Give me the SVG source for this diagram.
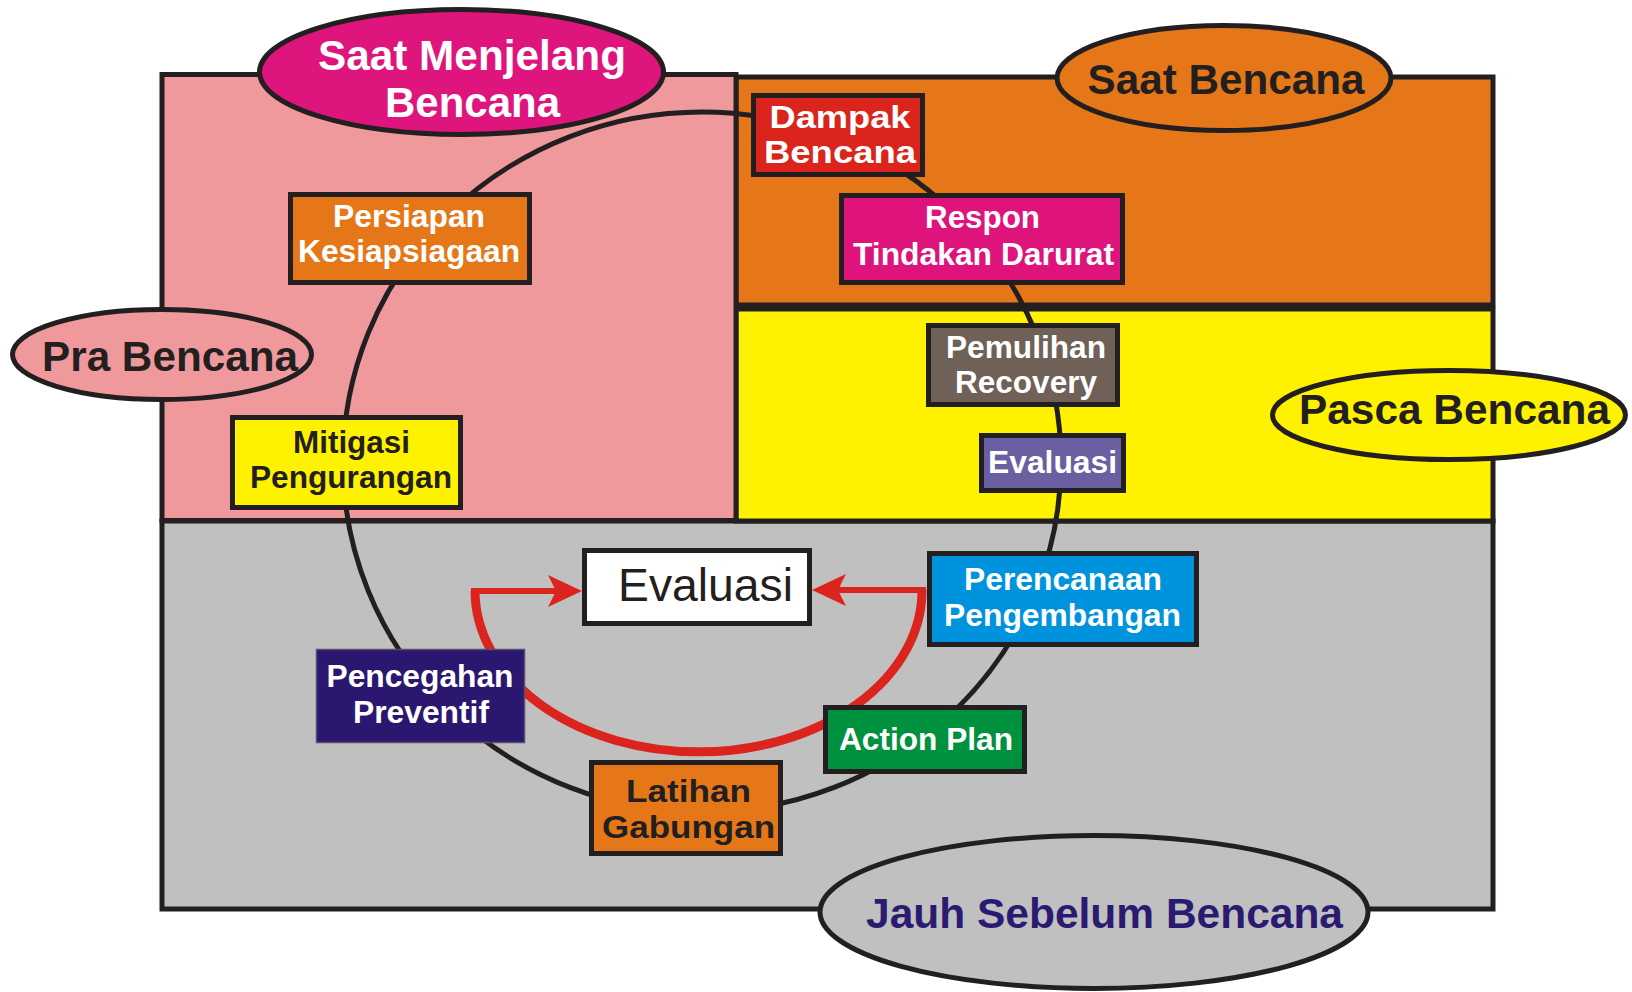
<svg xmlns="http://www.w3.org/2000/svg" width="1632" height="992" viewBox="0 0 1632 992">
<defs>
<style>
.reg{stroke:#231F20;stroke-width:5}
.box{stroke:#231F20;stroke-width:5}
.lab{stroke:#231F20;stroke-width:5}
.t32{font-family:"Liberation Sans",Arial,sans-serif;font-weight:bold;font-size:32px;text-anchor:middle}
.t42{font-family:"Liberation Sans",Arial,sans-serif;font-weight:bold;font-size:42px;text-anchor:middle}
.w{fill:#FFFFFF}
.d{fill:#231F20}
.cyc{fill:none;stroke:#231F20;stroke-width:5}
.red{fill:none;stroke:#DC241F}
</style>
<marker id="ah" markerUnits="userSpaceOnUse" viewBox="0 0 34 32" markerWidth="34" markerHeight="32" refX="8" refY="16" orient="auto">
<path d="M0,0 L34,16 L0,32 L8,16 Z" fill="#DC241F"/>
</marker>
</defs>
<rect width="1632" height="992" fill="#FFFFFF"/>
<g id="regions">
<rect id="region-jauh" class="reg" x="162" y="521" width="1331" height="388" fill="#C0C0C0"/>
<rect id="region-pasca" class="reg" x="736" y="309" width="757" height="212" fill="#FFF200"/>
<rect id="region-saat" class="reg" x="736" y="77" width="757" height="228" fill="#E57718"/>
<rect id="region-pra" class="reg" x="162" y="74.5" width="574" height="446" fill="#EF999D"/>
</g>
<g id="connectors">
<ellipse class="cyc" cx="702" cy="462" rx="359" ry="350"/>
<path class="red" stroke-width="9" d="M475 591 A223 161 0 0 0 922 590"/>
<line class="red" stroke-width="6" x1="471" y1="591" x2="556" y2="591" marker-end="url(#ah)"/>
<line class="red" stroke-width="6" x1="926" y1="590" x2="838" y2="590" marker-end="url(#ah)"/>
</g>
<g id="node-persiapan">
<rect class="box" x="290.5" y="194.5" width="239" height="88" fill="#E57718"/>
<text class="t32 w" x="409" y="227" textLength="152" lengthAdjust="spacingAndGlyphs">Persiapan</text>
<text class="t32 w" x="409" y="262" textLength="222" lengthAdjust="spacingAndGlyphs">Kesiapsiagaan</text>
</g>
<g id="node-mitigasi">
<rect class="box" x="232.5" y="417.5" width="228" height="90" fill="#FFF200"/>
<text class="t32 d" x="351.5" y="453" textLength="117" lengthAdjust="spacingAndGlyphs">Mitigasi</text>
<text class="t32 d" x="351" y="488" textLength="202" lengthAdjust="spacingAndGlyphs">Pengurangan</text>
</g>
<g id="node-dampak">
<rect class="box" x="753.5" y="95.5" width="169" height="79" fill="#DA241C"/>
<text class="t32 w" x="840" y="127.5" textLength="141" lengthAdjust="spacingAndGlyphs">Dampak</text>
<text class="t32 w" x="840" y="162.5" textLength="152" lengthAdjust="spacingAndGlyphs">Bencana</text>
</g>
<g id="node-respon">
<rect class="box" x="841.5" y="195.5" width="281" height="87" fill="#DE137C"/>
<text class="t32 w" x="982.5" y="228" textLength="115" lengthAdjust="spacingAndGlyphs">Respon</text>
<text class="t32 w" x="983.5" y="265" textLength="261" lengthAdjust="spacingAndGlyphs">Tindakan Darurat</text>
</g>
<g id="node-pemulihan">
<rect class="box" x="928.5" y="325.5" width="189" height="79" fill="#6F6058"/>
<text class="t32 w" x="1026" y="357.5" textLength="160" lengthAdjust="spacingAndGlyphs">Pemulihan</text>
<text class="t32 w" x="1026" y="393" textLength="142" lengthAdjust="spacingAndGlyphs">Recovery</text>
</g>
<g id="node-evaluasi-pasca">
<rect class="box" x="981.5" y="435.5" width="142" height="55" fill="#6A5FA0"/>
<text class="t32 w" x="1052.5" y="473" textLength="129" lengthAdjust="spacingAndGlyphs">Evaluasi</text>
</g>
<g id="node-perencanaan">
<rect class="box" x="929.5" y="553.5" width="267" height="91" fill="#0093DD"/>
<text class="t32 w" x="1063" y="590" textLength="198" lengthAdjust="spacingAndGlyphs">Perencanaan</text>
<text class="t32 w" x="1062.5" y="626" textLength="237" lengthAdjust="spacingAndGlyphs">Pengembangan</text>
</g>
<g id="node-action-plan">
<rect class="box" x="825.5" y="707.5" width="199" height="64" fill="#00913F"/>
<text class="t32 w" x="926" y="750" textLength="174" lengthAdjust="spacingAndGlyphs">Action Plan</text>
</g>
<g id="node-latihan">
<rect class="box" x="591.5" y="762.5" width="189" height="91" fill="#E57718"/>
<text class="t32 d" x="688.5" y="802" textLength="125" lengthAdjust="spacingAndGlyphs">Latihan</text>
<text class="t32 d" x="688.5" y="838" textLength="173" lengthAdjust="spacingAndGlyphs">Gabungan</text>
</g>
<g id="node-pencegahan">
<rect x="316.5" y="649.5" width="208" height="93" fill="#2B1770" stroke="#55506A" stroke-width="1.5"/>
<text class="t32 w" x="420" y="687" textLength="187" lengthAdjust="spacingAndGlyphs">Pencegahan</text>
<text class="t32 w" x="421" y="723" textLength="136" lengthAdjust="spacingAndGlyphs">Preventif</text>
</g>
<g id="node-evaluasi">
<rect class="box" x="584.5" y="550.5" width="225" height="73" fill="#FFFFFF"/>
<text x="618" y="601" font-family="Liberation Sans, Arial, sans-serif" font-size="46" fill="#231F20" textLength="175" lengthAdjust="spacingAndGlyphs">Evaluasi</text>
</g>
<g id="label-saat-menjelang">
<ellipse class="lab" cx="461.5" cy="72" rx="202" ry="62.5" fill="#DE157D"/>
<text class="t42 w" x="472" y="70" textLength="308" lengthAdjust="spacingAndGlyphs">Saat Menjelang</text>
<text class="t42 w" x="472.5" y="117" textLength="175" lengthAdjust="spacingAndGlyphs">Bencana</text>
</g>
<g id="label-saat-bencana">
<ellipse class="lab" cx="1224" cy="78" rx="167" ry="52.5" fill="#E57718"/>
<text class="t42 d" x="1226" y="94" textLength="277" lengthAdjust="spacingAndGlyphs">Saat Bencana</text>
</g>
<g id="label-pra-bencana">
<ellipse class="lab" cx="162" cy="354.5" rx="149.5" ry="45" fill="#EF999D"/>
<text class="t42 d" x="170" y="371" textLength="256" lengthAdjust="spacingAndGlyphs">Pra Bencana</text>
</g>
<g id="label-pasca-bencana">
<ellipse class="lab" cx="1449" cy="415" rx="176.5" ry="44.5" fill="#FFF200"/>
<text class="t42 d" x="1454.5" y="424" textLength="311" lengthAdjust="spacingAndGlyphs">Pasca Bencana</text>
</g>
<g id="label-jauh-sebelum">
<ellipse class="lab" cx="1094" cy="912" rx="274" ry="76.5" fill="#C0C0C0"/>
<text class="t42" x="1104.5" y="928" fill="#2B1A72" textLength="477" lengthAdjust="spacingAndGlyphs">Jauh Sebelum Bencana</text>
</g>
</svg>
